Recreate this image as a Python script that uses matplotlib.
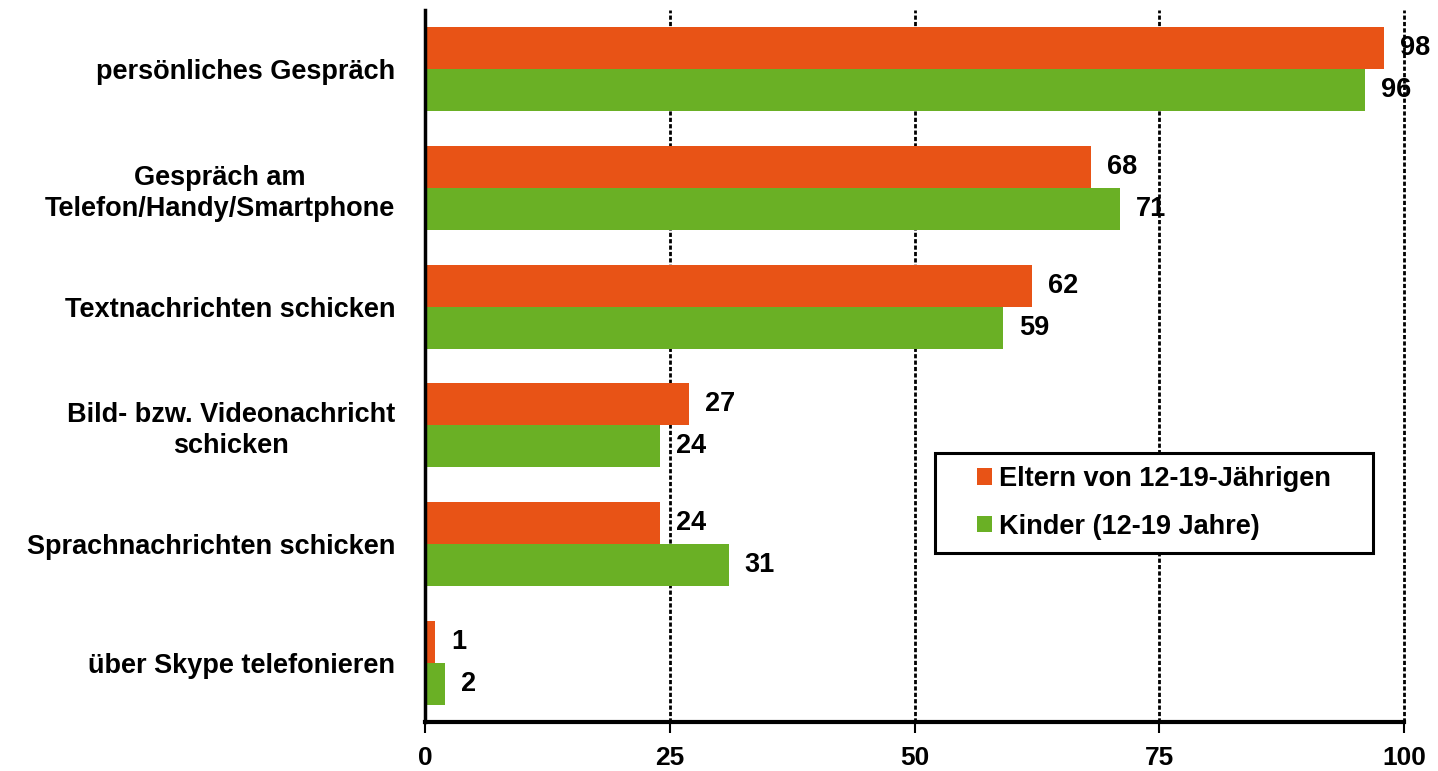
#!/usr/bin/env python3

import numpy as np
import matplotlib.pyplot as plt
from matplotlib import rc
from matplotlib.patches import Rectangle

rc('font', family='Liberation Sans', weight='bold')

categories = [
    'persönliches Gespräch',
    'Gespräch am\nTelefon/Handy/Smartphone',
    'Textnachrichten schicken',
    'Bild- bzw. Videonachricht\nschicken',
    'Sprachnachrichten schicken',
    'über Skype telefonieren',
]
eltern = [98, 68, 62, 27, 24, 1]
kinder = [96, 71, 59, 24, 31, 2]
series_names = ['Eltern von 12-19-Jährigen', 'Kinder (12-19 Jahre)']
ticks = [0, 25, 50, 75, 100]

orange = '#E85316'
green = '#6AB025'
fs = 19.5

fig = plt.figure(figsize=(14.38, 7.71), dpi=100)
ax = fig.add_axes([0.2956, 0.0636, 0.9764 - 0.2956, 0.987 - 0.0636])

y = np.arange(len(categories))
h = 0.355

ax.barh(y - h / 2, eltern, height=h, color=orange, label=series_names[0], zorder=3)
ax.barh(y + h / 2, kinder, height=h, color=green, label=series_names[1], zorder=3)

for yi, v in zip(y, eltern):
    ax.annotate(str(v), (v, yi - h / 2), xytext=(16, 0), textcoords='offset pixels',
                va='center', ha='left', fontsize=fs, fontweight='bold', zorder=5)
for yi, v in zip(y, kinder):
    ax.annotate(str(v), (v, yi + h / 2), xytext=(16, 0), textcoords='offset pixels',
                va='center', ha='left', fontsize=fs, fontweight='bold', zorder=5)

ax.set_ylim(len(categories) - 0.5, -0.5)
ax.set_xlim(0, 100)
ax.set_xticks(ticks)
ax.set_xticklabels([str(t) for t in ticks], fontsize=19, fontweight='bold')
ax.set_yticks(y)
ax.set_yticklabels(categories, fontsize=fs, fontweight='bold', multialignment='center',
                   linespacing=1.25)
ax.tick_params(axis='y', length=0, pad=21.5)
ax.tick_params(axis='x', length=8, width=1.5, pad=9, color='black')

for x in ticks[1:]:
    ax.axvline(x, color='black', linewidth=2, linestyle=(0, (1.5, 0.8)), zorder=1, clip_on=False)

for s in ['top', 'right']:
    ax.spines[s].set_visible(False)
ax.spines['left'].set_linewidth(2.5)
ax.spines['bottom'].set_linewidth(3)
ax.spines['left'].set_zorder(4)
ax.spines['bottom'].set_zorder(4)

# legend box drawn separately so the padding can match
ax.add_patch(Rectangle((0.521, 0.2374), 0.4474, 0.1404, transform=ax.transAxes,
                       facecolor='white', edgecolor='black', linewidth=2.2, zorder=6))
leg = ax.legend(loc='upper left', bbox_to_anchor=((977 - 425) / 979, 1 - (466 - 10) / 712),
                fontsize=fs, frameon=False,
                handlelength=0.55, handleheight=0.55, handletextpad=0.25,
                borderpad=0, labelspacing=0.8, borderaxespad=0)
leg.set_zorder(7)

fig.savefig('out.png', dpi=100)
